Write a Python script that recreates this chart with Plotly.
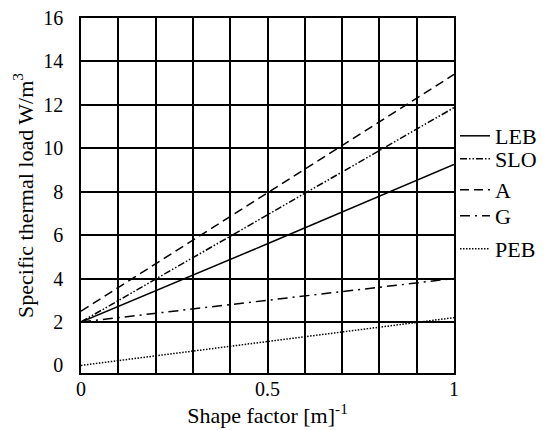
import plotly.graph_objects as go

shape_factor = [0.0, 0.5, 1.0]
leb = [2.0, 5.6, 9.25]
slo = [2.0, 6.95, 11.87]
a_vals = [2.5, 7.95, 13.4]
g_vals = [2.0, 3.0, 4.0]
peb = [0.0, 1.1, 2.2]
y_ticks = [0, 2, 4, 6, 8, 10, 12, 14, 16]

# name, values, dash pattern, legend centre y (container fraction)
series = [
    ("LEB", leb, "solid", 1 - 136 / 430),
    ("SLO", slo, "7px,2px,1.5px,2px,1.5px,2px", 1 - 159 / 430),
    ("A", a_vals, "9px,5px", 1 - 190 / 430),
    ("G", g_vals, "10px,5px,2px,5px", 1 - 216 / 430),
    ("PEB", peb, "1.5px,1.5px", 1 - 249 / 430),
]

FONT = "Liberation Serif"
fig = go.Figure()
layout_legends = {}
for i, (name, vals, dash, ly) in enumerate(series):
    lname = "legend" if i == 0 else f"legend{i+1}"
    fig.add_trace(go.Scatter(
        x=shape_factor, y=vals, mode="lines", name=name,
        line=dict(color="black", width=1.5, dash=dash),
        legend=lname,
    ))
    layout_legends[lname] = dict(
        x=455 / 551, y=ly, xref="container", yref="container",
        xanchor="left", yanchor="middle",
        bgcolor="rgba(0,0,0,0)", borderwidth=0,
        font=dict(family=FONT, size=22, color="black"),
        itemwidth=30, tracegroupgap=0,
    )

fig.update_layout(
    width=551, height=430,
    margin=dict(l=81, r=96.5, t=17.5, b=56.5, autoexpand=False),
    paper_bgcolor="white", plot_bgcolor="white",
    font=dict(family=FONT, size=20, color="black"),
    showlegend=True,
    **layout_legends,
)
fig.update_xaxes(
    range=[0, 1], tickvals=[0, 0.5, 1], ticktext=["0", "0.5", "1"],
    showgrid=True, gridcolor="black", gridwidth=1.5,
    minor=dict(dtick=0.1, showgrid=True, gridcolor="black", gridwidth=1.5, ticks=""),
    showline=True, linecolor="black", linewidth=1.5, mirror=True,
    ticks="", zeroline=False, automargin=False, ticklabelstandoff=-3,
    tickfont=dict(family=FONT, size=20),
    title=dict(text="Shape factor [m]<sup>-1</sup>", font=dict(family=FONT, size=22), standoff=0),
)
fig.update_yaxes(
    range=[-0.35, 16], tickvals=y_ticks,
    showgrid=False,
    minor=dict(tickvals=y_ticks[1:], showgrid=True, gridcolor="black", gridwidth=1.5, ticks=""),
    showline=True, linecolor="black", linewidth=1.5, mirror=True,
    ticks="", zeroline=False, ticklabelstandoff=12, automargin=False,
    tickfont=dict(family=FONT, size=20),
    title=dict(text="Specific thermal load W/m<sup>3</sup>", font=dict(family=FONT, size=22), standoff=4),
)
fig.write_html("out.html", config={"displayModeBar": False},
               post_script="document.body.style.margin='0';")
